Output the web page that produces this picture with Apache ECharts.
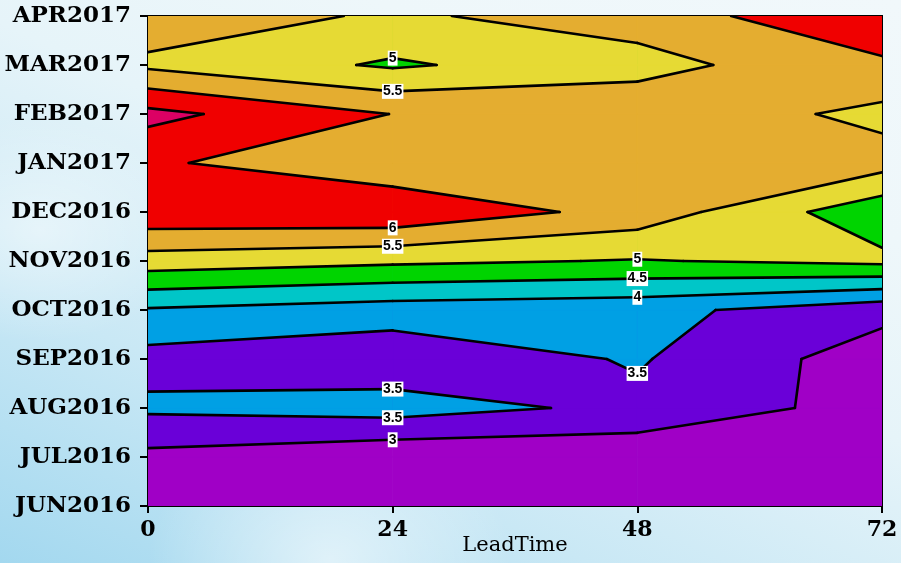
<!DOCTYPE html>
<html>
<head>
<meta charset="utf-8">
<script src="https://cdn.jsdelivr.net/npm/echarts@6/dist/echarts.min.js"></script>
<style>
html,body{margin:0;padding:0;width:901px;height:563px;overflow:hidden;}
body{background:
  radial-gradient(ellipse 260px 200px at 330px 560px, rgba(255,255,255,0.55), rgba(255,255,255,0) 70%),
  radial-gradient(ellipse 220px 160px at 40px 230px, rgba(255,255,255,0.45), rgba(255,255,255,0) 70%),
  linear-gradient(25deg, #a3d8ef 0%, #c9e8f5 28%, #e6f4f9 55%, #eef7fa 75%, #f1f8fb 100%);}
#chart{width:901px;height:563px;}
</style>
</head>
<body>
<div id="chart"></div>
<script>
// Rows: months (bottom to top), columns: lead times
const months = ['JUN2016','JUL2016','AUG2016','SEP2016','OCT2016','NOV2016','DEC2016','JAN2017','FEB2017','MAR2017','APR2017'];
const leadTimes = [0, 24, 48, 72];
// field values at each lead time, one value per month (JUN2016 .. APR2017)
const lead0  = [2.75, 2.87, 3.59, 3.32, 3.95, 5.27, 6.39, 6.08, 6.65, 5.40, 5.78];
const lead24 = [2.65, 2.61, 3.72, 3.15, 3.75, 5.10, 6.43, 5.60, 5.99, 4.93, 5.43];
const lead48 = [2.60, 2.63, 3.38, 3.55, 3.66, 4.97, 5.80, 5.75, 5.85, 5.32, 5.72];
const lead72 = [2.55, 2.60, 2.79, 2.73, 3.16, 5.13, 4.65, 5.70, 5.37, 5.90, 6.45];
// contour levels and fill colours (below first level ... above last level)
const levels = [3, 3.5, 4, 4.5, 5, 5.5, 6, 6.5];
const fillColors = ['#a000c6', '#6a00d8', '#00a0e4', '#00c6c8', '#00d400', '#e6da34', '#e4ad30', '#f00000', '#dc0064'];
// labelled contours: [lead time, level, month row just below the crossing]
const labelSpots = [[24, 5, 9], [24, 5.5, 8], [24, 6, 5], [24, 5.5, 5], [48, 5, 5], [48, 4.5, 4], [48, 4, 4], [48, 3.5, 2], [24, 3.5, 2], [24, 3.5, 1], [24, 3, 1]];

const columns = [lead0, lead24, lead48, lead72];
function val(r, c) { return columns[c][r]; }

function cross(P, Q, L) {
  const f = (L - P[2]) / (Q[2] - P[2]);
  return [P[0] + f * (Q[0] - P[0]), P[1] + f * (Q[1] - P[1]), L];
}
function clipAbove(poly, L) {
  const out = [];
  const n = poly.length;
  for (let i = 0; i < n; i++) {
    const P = poly[i], Q = poly[(i + 1) % n];
    const pin = P[2] >= L, qin = Q[2] >= L;
    if (pin) out.push(P);
    if (pin !== qin) out.push(cross(P, Q, L));
  }
  return out;
}
function cellCorners(r, c) {
  return [
    [leadTimes[c], r, val(r, c)],
    [leadTimes[c + 1], r, val(r, c + 1)],
    [leadTimes[c + 1], r + 1, val(r + 1, c + 1)],
    [leadTimes[c], r + 1, val(r + 1, c)]
  ];
}
function centerVal(q) { return (q[0][2] + q[1][2] + q[2][2] + q[3][2]) / 4; }

// marching-squares region {v >= L} inside one cell
function regionsAbove(q, L) {
  const ins = q.map(p => p[2] >= L);
  const cIn = centerVal(q) >= L;
  if (ins[0] && ins[2] && !ins[1] && !ins[3] && !cIn) {
    return [[q[0], cross(q[0], q[1], L), cross(q[3], q[0], L)],
            [q[2], cross(q[2], q[3], L), cross(q[1], q[2], L)]];
  }
  if (ins[1] && ins[3] && !ins[0] && !ins[2] && !cIn) {
    return [[q[1], cross(q[1], q[2], L), cross(q[0], q[1], L)],
            [q[3], cross(q[3], q[0], L), cross(q[2], q[3], L)]];
  }
  const p = clipAbove(q, L);
  return p.length >= 3 ? [p] : [];
}
// marching-squares contour segments inside one cell
function segmentsAt(q, L) {
  const e = [];
  let n = 0;
  for (let i = 0; i < 4; i++) {
    const P = q[i], Q = q[(i + 1) % 4];
    if ((P[2] - L) * (Q[2] - L) < 0) { e[i] = cross(P, Q, L); n++; }
  }
  if (n === 2) return [e.filter(Boolean)];
  if (n === 4) {
    const cIn = centerVal(q) >= L;
    const in0 = q[0][2] >= L;
    if (cIn === in0) return [[e[0], e[1]], [e[2], e[3]]];
    return [[e[3], e[0]], [e[1], e[2]]];
  }
  return [];
}

function renderField(params, api) {
  const children = [];
  const toPx = p => api.coord([p[0], p[1]]);
  const cells = [];
  for (let r = 0; r < months.length - 1; r++)
    for (let c = 0; c < leadTimes.length - 1; c++) cells.push(cellCorners(r, c));
  // base fill, then each band layer over all cells
  for (const q of cells) {
    children.push({ type: 'polygon', shape: { points: q.map(toPx) },
      style: { fill: fillColors[0], stroke: fillColors[0], lineWidth: 0.8 }, silent: true });
  }
  for (let k = 0; k < levels.length; k++) {
    for (const q of cells) {
      for (const poly of regionsAbove(q, levels[k])) {
        children.push({ type: 'polygon', shape: { points: poly.map(toPx) },
          style: { fill: fillColors[k + 1], stroke: fillColors[k + 1], lineWidth: 0.8 }, silent: true });
      }
    }
  }
  // contour lines
  for (const q of cells) {
    for (const L of levels) {
      for (const seg of segmentsAt(q, L)) {
        children.push({ type: 'polyline', shape: { points: seg.map(toPx) },
          style: { stroke: '#000', lineWidth: 2.6, lineCap: 'round', fill: null }, silent: true });
      }
    }
  }
  // contour labels
  for (const [lead, L, r] of labelSpots) {
    const c = leadTimes.indexOf(lead);
    const v1 = val(r, c), v2 = val(r + 1, c);
    const y = r + (L - v1) / (v2 - v1);
    const p = api.coord([lead, y]);
    children.push({
      type: 'text', x: p[0], y: p[1],
      style: {
        text: String(L), fill: '#000', font: 'bold 14px "Liberation Sans", Arial, sans-serif',
        align: 'center', verticalAlign: 'middle', textAlign: 'center', textVerticalAlign: 'middle',
        backgroundColor: '#fff', padding: [1, 1, 0, 1]
      },
      silent: true
    });
  }
  return { type: 'group', children: children };
}

const chart = echarts.init(document.getElementById('chart'), null, { renderer: 'canvas' });
chart.setOption({
  backgroundColor: 'transparent',
  animation: false,
  grid: { left: 148, right: 19, top: 16, bottom: 57, containLabel: false, outerBoundsMode: 'none',
          show: true, borderColor: '#000', borderWidth: 2, backgroundColor: 'transparent' },
  xAxis: {
    type: 'value', min: 0, max: 72, interval: 24,
    name: 'LeadTime', nameLocation: 'middle', nameGap: 29, nameMoveOverlap: false,
    nameTextStyle: { color: '#000', fontFamily: 'DejaVu Serif', fontSize: 21 },
    axisLine: { show: true, onZero: false, lineStyle: { color: '#000', width: 2 } },
    axisTick: { show: true, inside: false, length: 7, lineStyle: { color: '#000', width: 2 } },
    axisLabel: { color: '#000', fontFamily: 'DejaVu Serif', fontWeight: 'bold', fontSize: 22, margin: 13 },
    splitLine: { show: false }
  },
  yAxis: {
    type: 'value', min: 0, max: months.length - 1, interval: 1,
    axisLine: { show: true, onZero: false, lineStyle: { color: '#000', width: 2 } },
    axisTick: { show: true, inside: false, length: 8, lineStyle: { color: '#000', width: 2 } },
    axisLabel: { color: '#000', fontFamily: 'DejaVu Serif', fontWeight: 'bold', fontSize: 23, margin: 17,
      formatter: v => months[v] },
    splitLine: { show: false }
  },
  series: [{
    type: 'custom',
    renderItem: renderField,
    data: [[0, 0]],
    clip: true,
    z: 2
  }]
});
</script>
</body>
</html>
